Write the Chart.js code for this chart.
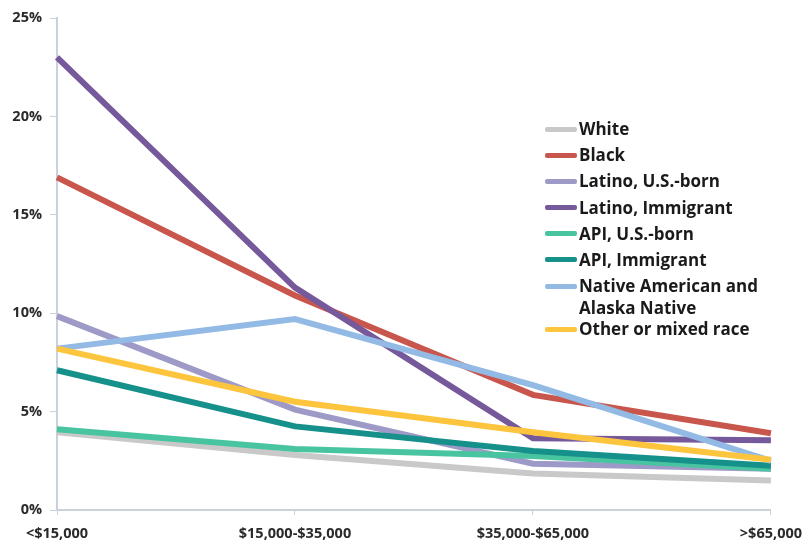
<!DOCTYPE html>
<html>
<head>
<meta charset="utf-8">
<script src="https://cdn.jsdelivr.net/npm/chart.js@4.4.1/dist/chart.umd.min.js"></script>
<style>
  html, body { margin: 0; padding: 0; background: #fff; }
  #wrap { position: relative; width: 812px; height: 544px; }
  #legend { position: absolute; left: 545px; top: 118px; font-family: "Open Sans", sans-serif; font-weight: bold; font-size: 17px; color: #1a1a1a; letter-spacing: 0; }
  .item { display: flex; align-items: flex-start; height: 26.2px; }
  .item.two { height: 43px; }
  .swatch { width: 32px; height: 5px; border-radius: 2px; margin-top: 8.5px; flex: none; }
  .label { line-height: 22px; margin-left: 2px; }
</style>
</head>
<body>
<div id="wrap">
  <canvas id="chart" width="812" height="544"></canvas>
  <div id="legend"></div>
</div>
<script>
const incomeGroups = ['<$15,000', '$15,000-$35,000', '$35,000-$65,000', '>$65,000'];
const seriesNames = ['White', 'Black', 'Latino, U.S.-born', 'Latino, Immigrant', 'API, U.S.-born', 'API, Immigrant', 'Native American and Alaska Native', 'Other or mixed race'];

const white = [3.95, 2.8, 1.85, 1.5];
const black = [16.9, 10.9, 5.85, 3.9];
const latinoUS = [9.85, 5.1, 2.35, 2.1];
const latinoImm = [23.0, 11.3, 3.65, 3.55];
const apiUS = [4.1, 3.1, 2.75, 2.1];
const apiImm = [7.1, 4.25, 3.0, 2.25];
const nativeAm = [8.2, 9.7, 6.35, 2.5];
const otherMixed = [8.2, 5.5, 3.95, 2.55];

const seriesValues = [white, black, latinoUS, latinoImm, apiUS, apiImm, nativeAm, otherMixed];
const seriesColors = ['#c9c9c9', '#c9564c', '#9d9ac7', '#76599b', '#49c4a0', '#16908a', '#92bae4', '#fdc43d'];

const datasets = seriesNames.map((name, i) => ({
    label: name,
    data: seriesValues[i],
    borderColor: seriesColors[i],
    backgroundColor: seriesColors[i],
    borderWidth: 6,
    pointRadius: 0,
    tension: 0,
    fill: false,
    order: seriesNames.length - i
}));

// legend as html, two lines for the long label
const legend = document.getElementById('legend');
seriesNames.forEach((name, i) => {
    const row = document.createElement('div');
    row.className = 'item';
    let text = name;
    if (name.startsWith('Native American')) {
        row.className = 'item two';
        text = 'Native American and<br>Alaska Native';
    }
    row.innerHTML = `<div class="swatch" style="background:${seriesColors[i]}"></div><div class="label">${text}</div>`;
    legend.appendChild(row);
});

const axisColor = '#c9d1db';
const tickFont = { family: '"Open Sans", sans-serif', size: 14.5, weight: 'bold' };

new Chart(document.getElementById('chart'), {
    type: 'line',
    data: { labels: incomeGroups, datasets: datasets },
    options: {
        responsive: false,
        animation: false,
        layout: { padding: { top: 18, right: 32, left: 0, bottom: 0 } },
        plugins: { legend: { display: false }, tooltip: { enabled: false } },
        scales: {
            x: {
                offset: false,
                grid: { drawOnChartArea: false, color: axisColor, tickLength: 5 },
                border: { color: axisColor, width: 2 },
                ticks: { color: '#2a2a2a', font: tickFont, maxRotation: 0, padding: 10 },
                afterFit: s => { s.height = 34; }
            },
            y: {
                min: 0,
                max: 25,
                grid: { drawOnChartArea: false, color: axisColor, tickLength: 7 },
                border: { color: axisColor, width: 2 },
                ticks: { stepSize: 5, color: '#2a2a2a', font: tickFont, padding: 8, callback: v => v + '%' },
                afterFit: s => { s.width = 57; }
            }
        }
    }
});
</script>
</body>
</html>
